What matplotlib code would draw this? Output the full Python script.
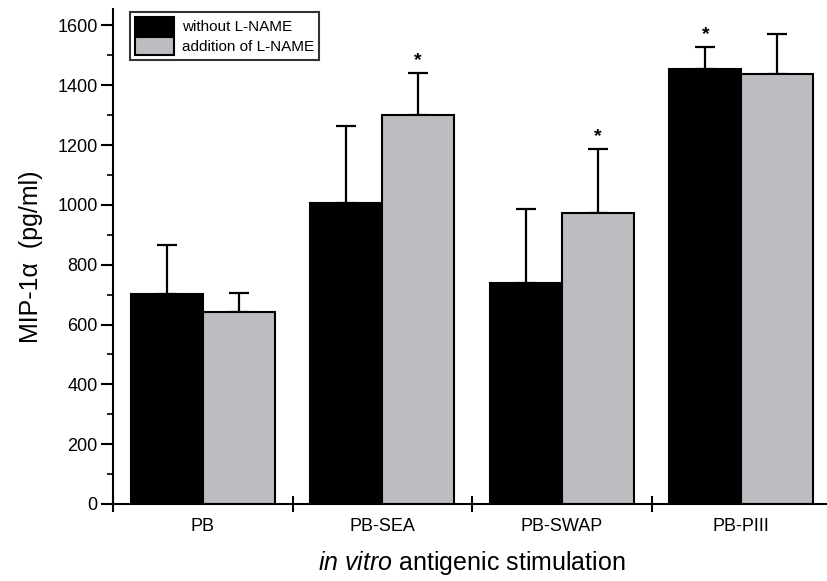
import matplotlib
matplotlib.use("Agg")
import matplotlib.pyplot as plt
import numpy as np
from matplotlib.ticker import MultipleLocator, FixedLocator

plt.rcParams['font.family'] = ['Liberation Sans', 'DejaVu Sans']
plt.rcParams['mathtext.fontset'] = 'custom'
plt.rcParams['mathtext.rm'] = 'Liberation Sans'
plt.rcParams['mathtext.it'] = 'Liberation Sans:italic'

# datos
estimulos = ["PB", "PB-SEA", "PB-SWAP", "PB-PIII"]
sin_lname = [703, 1007, 740, 1453]
sin_lname_err = [164, 256, 247, 74]
con_lname = [643, 1300, 973, 1437]
con_lname_err = [64, 140, 214, 133]
# asteriscos: (serie, indice)
significativos = [(1, 1), (1, 2), (0, 3)]

fig = plt.figure(figsize=(8.27, 5.81), dpi=100)
ax = fig.add_axes([113 / 827, 77 / 581, 718 / 827, 495 / 581])

x = np.arange(len(estimulos))
ancho = 0.4
gris = "#bcbdc1"

ax.bar(x - ancho / 2, sin_lname, ancho, color="black", edgecolor="black",
       linewidth=1.5, label="without L-NAME", zorder=2)
ax.bar(x + ancho / 2, con_lname, ancho, color=gris, edgecolor="black",
       linewidth=1.5, label="addition of L-NAME", zorder=2)

ax.errorbar(x - ancho / 2, sin_lname, yerr=[np.zeros(4), sin_lname_err],
            fmt="none", ecolor="black", elinewidth=1.6, capsize=7.5,
            capthick=1.6, zorder=1)
ax.errorbar(x + ancho / 2, con_lname, yerr=[np.zeros(4), con_lname_err],
            fmt="none", ecolor="black", elinewidth=1.6, capsize=7.5,
            capthick=1.6, zorder=1)

series = [(sin_lname, sin_lname_err), (con_lname, con_lname_err)]
for s, i in significativos:
    vals, errs = series[s]
    xpos = i - ancho / 2 if s == 0 else i + ancho / 2
    ax.annotate("*", (xpos, vals[i] + errs[i]), xytext=(0, 3),
                textcoords="offset points", ha="center", va="bottom",
                fontsize=14, fontweight="bold")

ax.set_xlim(-0.5, 3.5)
ax.set_ylim(0, 1655)

ax.spines["top"].set_visible(False)
ax.spines["right"].set_visible(False)
ax.spines["left"].set_linewidth(1.5)
ax.spines["bottom"].set_linewidth(1.5)

ax.yaxis.set_major_locator(MultipleLocator(200))
ax.yaxis.set_minor_locator(MultipleLocator(100))
ax.tick_params(axis="y", which="major", direction="out", length=9, width=1.5,
               labelsize=13, pad=2)
ax.tick_params(axis="y", which="minor", direction="out", length=4, width=1.2)

ax.xaxis.set_major_locator(FixedLocator([-0.5, 0.5, 1.5, 2.5, 3.5]))
ax.xaxis.set_major_formatter(plt.NullFormatter())
ax.xaxis.set_minor_locator(FixedLocator(x))
ax.set_xticklabels(estimulos, minor=True)
ax.tick_params(axis="x", which="major", direction="inout", length=12, width=1.5)
ax.tick_params(axis="x", which="minor", length=0, labelsize=13, pad=10)

ax.set_ylabel("MIP-1α  (pg/ml)", fontsize=18, labelpad=10)
ax.set_xlabel(r"$\it{in\ vitro}$ antigenic stimulation", fontsize=18, labelpad=10)

leg = ax.legend(loc="upper left", bbox_to_anchor=(14 / 718, 1.0), fontsize=11,
                frameon=True, fancybox=False, edgecolor="black",
                borderpad=0.3, borderaxespad=0.2, handlelength=2.6,
                handleheight=1.5, handletextpad=0.5, labelspacing=0.1)
leg.get_frame().set_linewidth(1.5)

fig.savefig("out.png", dpi=100)
